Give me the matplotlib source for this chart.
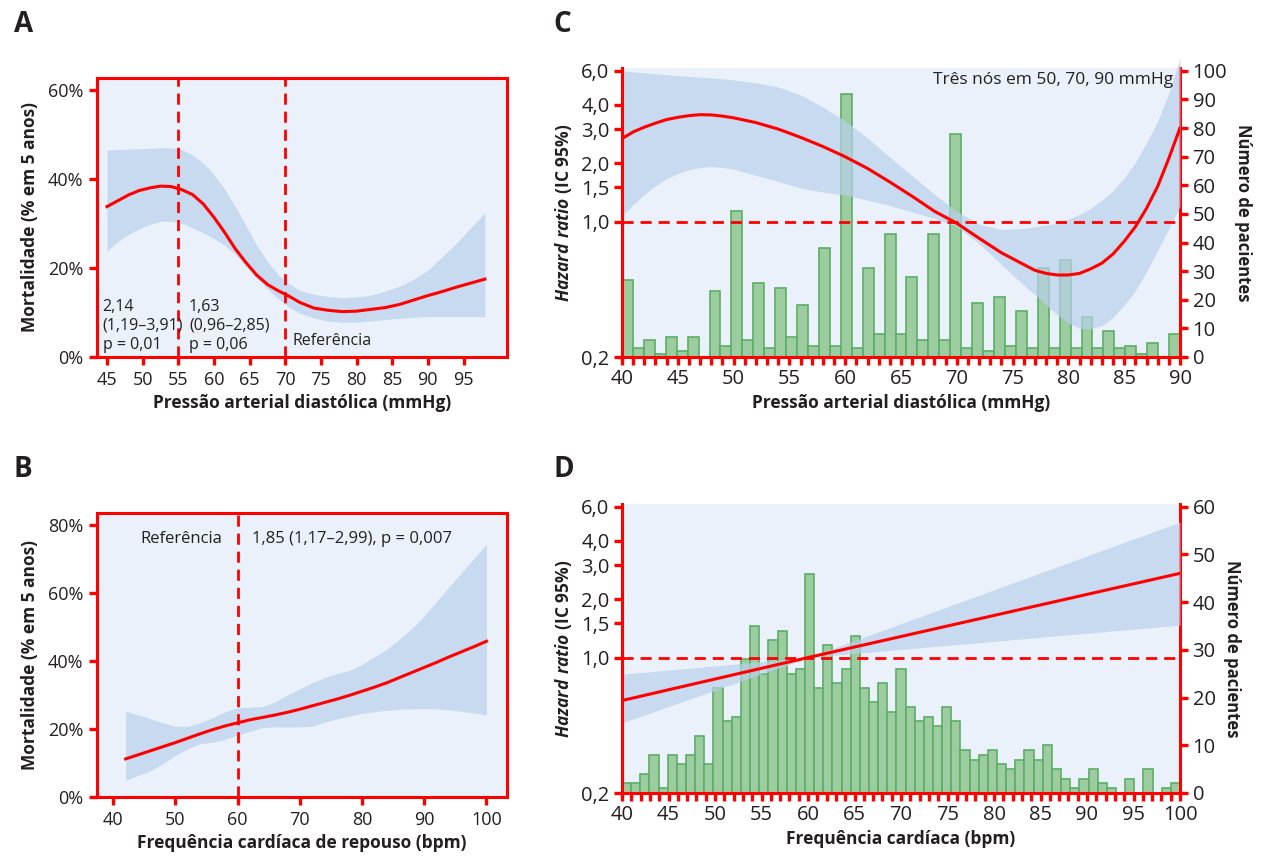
import numpy as np
import matplotlib
matplotlib.use("Agg")
import matplotlib.pyplot as plt
from matplotlib.ticker import FixedLocator, NullLocator

plt.rcParams['font.family'] = ['Open Sans', 'DejaVu Sans']
plt.rcParams['mathtext.fontset'] = 'custom'
plt.rcParams['mathtext.rm'] = 'Open Sans'
plt.rcParams['mathtext.bfit'] = 'Open Sans:italic:bold'

RED = '#FF0000'
BG = '#EAF1FA'
BAND = '#B9D1EC'
TXT = '#231F20'
BAR_FACE = '#9DCCA0'
BAR_EDGE = '#5BAE66'

# --- Panel A: mortality vs diastolic BP ---
dbp_a = [45, 46.5, 48, 49.5, 51, 52.5, 54, 55.5, 57, 58.5, 60, 61.5, 63, 64.5, 66, 67.5, 69, 70.5,
         72, 74, 76, 78, 80, 82, 84, 86, 88, 90, 92, 94, 96, 98]
mort_a = [33.8, 35.1, 36.4, 37.4, 38.0, 38.4, 38.3, 37.6, 36.5, 34.4, 31.4, 28.0, 24.3, 21.2, 18.4, 16.3,
          14.9, 13.7, 12.3, 11.0, 10.5, 10.2, 10.3, 10.7, 11.1, 11.8, 12.8, 13.8, 14.7, 15.7, 16.6, 17.5]
upper_a = [46.5, 46.6, 46.7, 46.8, 46.9, 47.0, 47.0, 46.6, 45.4, 43.6, 41.0, 37.7, 33.8, 29.5, 25.1, 21.5,
           18.5, 16.5, 15.0, 14.1, 13.6, 13.3, 13.5, 13.9, 14.8, 15.9, 17.5, 19.5, 22.5, 25.6, 29.0, 32.4]
lower_a = [23.8, 25.9, 27.5, 28.8, 29.8, 30.5, 30.5, 30.1, 29.0, 27.9, 26.6, 25.1, 23.1, 20.3, 17.7, 15.3,
           13.1, 11.3, 9.8, 8.8, 8.1, 7.8, 7.8, 8.1, 8.4, 8.7, 8.9, 9.1, 9.1, 9.1, 9.1, 9.1]

# --- Panel B: mortality vs resting heart rate ---
hr_b = [42, 44, 46, 48, 50, 52, 54, 56, 58, 60, 62, 64, 66, 68, 70, 72, 74, 76, 78, 80,
        82, 84, 86, 88, 90, 92, 94, 96, 98, 100]
mort_b = [11.2, 12.4, 13.6, 14.8, 16.0, 17.3, 18.6, 19.8, 20.9, 21.8, 22.7, 23.4, 24.1, 24.9, 25.8,
          26.8, 27.8, 28.8, 29.9, 31.1, 32.3, 33.6, 35.1, 36.6, 38.1, 39.6, 41.2, 42.7, 44.2, 45.8]
upper_b = [25.2, 24.2, 23.0, 21.8, 20.8, 20.8, 21.8, 23.4, 25.0, 26.3, 26.4, 26.6, 28.0, 30.0, 31.8,
           33.6, 35.2, 36.3, 37.2, 39.0, 41.2, 43.5, 46.4, 49.6, 53.3, 57.5, 61.8, 66.0, 70.2, 74.3]
lower_b = [5.0, 6.3, 7.7, 9.8, 12.2, 14.2, 15.7, 16.1, 17.0, 18.2, 19.3, 20.4, 20.6, 20.6, 20.6,
           20.8, 22.0, 23.0, 23.8, 24.6, 25.1, 25.5, 25.8, 25.9, 26.0, 25.9, 25.6, 25.2, 24.7, 24.1]

# --- Panel C: hazard ratio vs diastolic BP + histogram ---
dbp_c = [40, 41, 42, 43, 44, 45, 46, 47, 48, 49, 50, 52, 54, 56, 58, 60, 62, 64, 66, 68, 70, 72, 74,
         76, 77, 78, 79, 80, 81, 82, 83, 84, 85, 86, 87, 88, 89, 90]
hr_c = [2.68, 2.90, 3.07, 3.22, 3.36, 3.45, 3.52, 3.56, 3.55, 3.50, 3.43, 3.24, 3.00, 2.72, 2.44, 2.16,
        1.88, 1.60, 1.35, 1.13, 0.98, 0.82, 0.69, 0.60, 0.56, 0.54, 0.53, 0.53, 0.54, 0.57, 0.61, 0.68,
        0.79, 0.94, 1.17, 1.52, 2.12, 3.04]
hr_c_up = [6.0, 5.93, 5.86, 5.79, 5.73, 5.67, 5.61, 5.56, 5.51, 5.45, 5.38, 5.2, 4.95, 4.5, 3.9, 3.3,
           2.7, 2.15, 1.72, 1.38, 1.13, 0.97, 0.91, 0.92, 0.94, 0.96, 0.98, 1.03, 1.09, 1.17, 1.29, 1.44,
           1.68, 2.02, 2.55, 3.3, 4.6, 7.0]
hr_c_lo = [1.07, 1.22, 1.38, 1.53, 1.66, 1.77, 1.85, 1.90, 1.92, 1.90, 1.86, 1.73, 1.61, 1.49, 1.42, 1.37,
           1.29, 1.21, 1.12, 1.04, 0.94, 0.77, 0.60, 0.47, 0.42, 0.37, 0.33, 0.30, 0.28, 0.28, 0.29, 0.32,
           0.37, 0.44, 0.55, 0.71, 0.92, 1.2]
bins_c = list(range(40, 91))
counts_c = [27, 3, 6, 1, 7, 2, 7, 0, 23, 4, 51, 6, 26, 3, 24, 7, 18, 4, 38, 4, 92, 3, 31, 8, 43, 8,
            28, 6, 43, 6, 78, 3, 19, 2, 21, 4, 16, 3, 31, 3, 34, 3, 14, 3, 9, 3, 4, 1, 5, 0, 8]

# --- Panel D: hazard ratio vs heart rate + histogram ---
hr_d_x = [40, 60, 100]
hr_d = [0.60, 1.0, 2.72]
hr_d_up = [0.82, 1.0, 5.0]
hr_d_lo = [0.46, 1.0, 1.47]
bins_d = list(range(40, 101))
counts_d = [2, 2, 4, 8, 1, 8, 6, 8, 12, 6, 22, 15, 16, 28, 35, 25, 32, 34, 25, 26, 46, 22, 31, 23, 26,
            33, 22, 19, 23, 17, 26, 18, 15, 16, 14, 18, 15, 9, 7, 8, 9, 6, 5, 7, 9, 7, 10, 5, 3, 1,
            3, 5, 2, 1, 0, 3, 0, 5, 0, 1, 2]

hr_ticks = [0.2, 1.0, 1.5, 2.0, 3.0, 4.0, 6.0]
hr_labels = ['0,2', '1,0', '1,5', '2,0', '3,0', '4,0', '6,0']

W, H = 1264, 860
fig = plt.figure(figsize=(W / 100, H / 100), dpi=100)


def rect(left, top, right, bottom):
    return [left / W, 1 - bottom / H, (right - left) / W, (bottom - top) / H]


def pct(vals):
    return [f'{v}%' for v in vals]


def box_panel(ax):
    ax.set_facecolor(BG)
    for s in ax.spines.values():
        s.set_color(RED)
        s.set_linewidth(2.2)
    ax.tick_params(colors=TXT, labelsize=13, length=6, width=2.4, pad=4)
    ax.tick_params(axis='both', color=RED)


# ---------- A ----------
ax = fig.add_axes(rect(97, 78, 507, 357))
box_panel(ax)
ax.fill_between(dbp_a, lower_a, upper_a, color=BAND, alpha=0.7, lw=0)
ax.plot(dbp_a, mort_a, color=RED, lw=2.2)
for xv in [55, 70]:
    ax.axvline(xv, color=RED, lw=2, ls=(0, (4, 2.5)))
ax.set_xlim(43.6, 101.1)
ax.set_ylim(0, 62.7)
ax.set_xticks(range(45, 100, 5))
ax.set_yticks([0, 20, 40, 60])
ax.set_yticklabels(pct([0, 20, 40, 60]))
ax.set_xlabel('Pressão arterial diastólica (mmHg)', fontsize=12.5, fontweight='bold', color=TXT, labelpad=4)
ax.set_ylabel('Mortalidade (% em 5 anos)', fontsize=12.5, fontweight='bold', color=TXT, labelpad=6)
ax.text(44.4, 1.0, '2,14\n(1,19–3,91)\np = 0,01', fontsize=11.5, color=TXT, va='bottom', ha='left', linespacing=1.25)
ax.text(56.5, 1.0, '1,63\n(0,96–2,85)\np = 0,06', fontsize=11.5, color=TXT, va='bottom', ha='left', linespacing=1.25)
ax.text(71.0, 3.6, 'Referência', fontsize=11.5, color=TXT, va='center', ha='left')

# ---------- B ----------
ax = fig.add_axes(rect(97, 513, 507, 797))
box_panel(ax)
ax.fill_between(hr_b, lower_b, upper_b, color=BAND, alpha=0.7, lw=0)
ax.plot(hr_b, mort_b, color=RED, lw=2.2)
ax.axvline(60, color=RED, lw=2, ls=(0, (4, 2.5)))
ax.set_xlim(37.4, 103.3)
ax.set_ylim(0, 83.5)
ax.set_xticks(range(40, 101, 10))
ax.set_yticks([0, 20, 40, 60, 80])
ax.set_yticklabels(pct([0, 20, 40, 60, 80]))
ax.set_xlabel('Frequência cardíaca de repouso (bpm)', fontsize=12.5, fontweight='bold', color=TXT, labelpad=4)
ax.set_ylabel('Mortalidade (% em 5 anos)', fontsize=12.5, fontweight='bold', color=TXT, labelpad=6)
ax.text(50.9, 75.9, 'Referência', fontsize=12, color=TXT, va='center', ha='center')
ax.text(62.3, 75.9, '1,85 (1,17–2,99), p = 0,007', fontsize=12, color=TXT, va='center', ha='left')


# ---------- C and D ----------
def hr_panel(r, xs, line, up, lo, bx, counts, xlim, cmax, xlabel, black_from=None, band_clip=True):
    ax_n = fig.add_axes(r)
    ax_h = ax_n.twinx()
    ax_n.yaxis.tick_right()
    ax_n.yaxis.set_label_position('right')
    ax_h.yaxis.tick_left()
    ax_h.yaxis.set_label_position('left')

    ax_n.set_facecolor(BG)
    edges = np.linspace(xlim[0], xlim[1], len(bx) + 1)
    ax_n.hist(bx, bins=edges, weights=counts, facecolor=BAR_FACE, edgecolor=BAR_EDGE, linewidth=1.2)
    ax_n.set_xlim(*xlim)
    span = np.log(6.2 / 0.2) / np.log(30)
    ax_n.set_ylim(0, cmax * span)
    ax_n.set_yticks(range(0, cmax + 1, 10))

    ax_h.set_yscale('log')
    ax_h.fill_between(xs, lo, up, color=BAND, alpha=0.7, lw=0, clip_on=band_clip)
    ax_h.plot(xs, line, color=RED, lw=2.2)
    ax_h.axhline(1.0, color=RED, lw=2, ls=(0, (4, 2.5)))
    ax_h.set_ylim(0.2, 6.2)
    ax_h.yaxis.set_major_locator(FixedLocator(hr_ticks))
    ax_h.yaxis.set_minor_locator(NullLocator())
    ax_h.set_yticklabels(hr_labels)

    for a in (ax_n, ax_h):
        for s in a.spines.values():
            s.set_visible(False)
    ax_n.spines['right'].set_visible(True)
    ax_n.spines['bottom'].set_visible(True)
    ax_h.spines['left'].set_visible(True)
    for s in (ax_n.spines['right'], ax_n.spines['bottom'], ax_h.spines['left']):
        s.set_color(RED)
        s.set_linewidth(2.2)

    xt = list(range(int(xlim[0]), int(xlim[1]) + 1))
    ax_n.set_xticks(xt)
    ax_n.set_xticklabels([str(t) if t % 5 == 0 else '' for t in xt])
    for a in (ax_n, ax_h):
        a.tick_params(colors=TXT, labelsize=14.5, length=6, width=2.4, pad=3)
        a.tick_params(axis='both', color=RED)
    if black_from is not None:
        for t, tk in zip(xt, ax_n.xaxis.get_major_ticks()):
            if t >= black_from:
                tk.tick1line.set_color('black')

    ax_n.set_xlabel(xlabel, fontsize=12.5, fontweight='bold', color=TXT, labelpad=3)
    ax_h.set_ylabel(r'$\mathbfit{Hazard\ ratio}$ (IC 95%)', fontsize=12.5, fontweight='bold', color=TXT, labelpad=5)
    ax_n.set_ylabel('Número de pacientes', fontsize=12, fontweight='bold', color=TXT,
                    rotation=270, va='bottom', labelpad=5)
    return ax_n, ax_h


ax_n, ax_h = hr_panel(rect(622, 68, 1180, 357), dbp_c, hr_c, hr_c_up, hr_c_lo, bins_c, counts_c,
                      (40, 90), 100, 'Pressão arterial diastólica (mmHg)', band_clip=False)
ax_h.text(0.987, 0.958, 'Três nós em 50, 70, 90 mmHg', transform=ax_h.transAxes, fontsize=12.5,
          color=TXT, ha='right', va='center')

hr_panel(rect(622, 504, 1180, 793), hr_d_x, hr_d, hr_d_up, hr_d_lo, bins_d, counts_d,
         (40, 100), 60, 'Frequência cardíaca (bpm)', black_from=59)

for letter, x, y in [('A', 14, 10), ('B', 14, 455), ('C', 553, 10), ('D', 553, 455)]:
    fig.text(x / W, 1 - y / H, letter, fontsize=20, fontweight='bold', color=TXT, va='top', ha='left')

fig.savefig('out.png', dpi=100)
